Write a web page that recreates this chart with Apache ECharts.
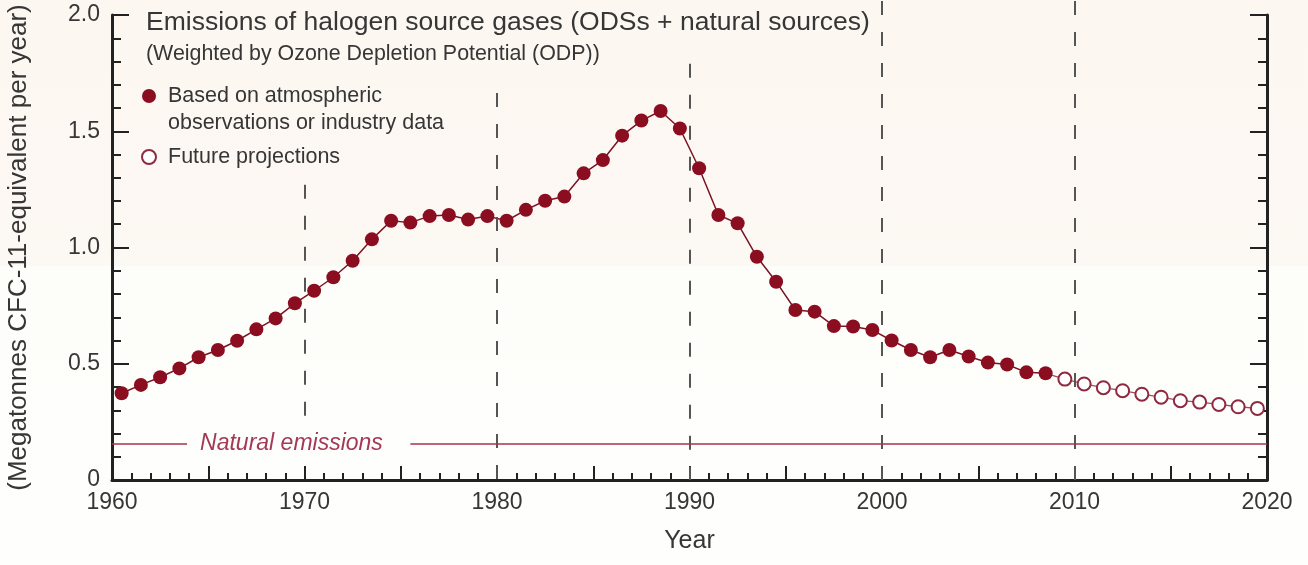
<!DOCTYPE html>
<html>
<head>
<meta charset="utf-8">
<script src="https://cdn.jsdelivr.net/npm/echarts@6/dist/echarts.min.js"></script>
<style>
  html, body { margin: 0; padding: 0; background: #fdfbf8; }
  #chart { width: 1308px; height: 565px; }
</style>
</head>
<body>
<div id="chart"></div>
<script>
// observed / industry data, plotted at mid-year
const obsYears = [
  1960.5, 1961.5, 1962.5, 1963.5, 1964.5, 1965.5, 1966.5, 1967.5, 1968.5, 1969.5,
  1970.5, 1971.5, 1972.5, 1973.5, 1974.5, 1975.5, 1976.5, 1977.5, 1978.5, 1979.5,
  1980.5, 1981.5, 1982.5, 1983.5, 1984.5, 1985.5, 1986.5, 1987.5, 1988.5, 1989.5,
  1990.5, 1991.5, 1992.5, 1993.5, 1994.5, 1995.5, 1996.5, 1997.5, 1998.5, 1999.5,
  2000.5, 2001.5, 2002.5, 2003.5, 2004.5, 2005.5, 2006.5, 2007.5, 2008.5
];
const obsValues = [
  0.373, 0.409, 0.442, 0.480, 0.528, 0.559, 0.599, 0.648, 0.695, 0.760,
  0.814, 0.872, 0.943, 1.035, 1.115, 1.107, 1.135, 1.140, 1.120, 1.135,
  1.115, 1.162, 1.201, 1.219, 1.319, 1.376, 1.481, 1.546, 1.587, 1.512,
  1.341, 1.140, 1.104, 0.960, 0.853, 0.731, 0.724, 0.662, 0.660, 0.645,
  0.600, 0.559, 0.528, 0.559, 0.531, 0.505, 0.497, 0.463, 0.459
];
// future projections
const projYears = [2009.5, 2010.5, 2011.5, 2012.5, 2013.5, 2014.5, 2015.5, 2016.5, 2017.5, 2018.5, 2019.5];
const projValues = [0.434, 0.413, 0.397, 0.384, 0.369, 0.356, 0.341, 0.335, 0.325, 0.315, 0.308];

const naturalEmissions = 0.158;
// vertical dashed dividers: year, top and bottom (in axis units of the outer grid)
const dividerYears = [1970, 1980, 1990, 2000, 2010];
const dividerTops = [1.27, 1.665, 1.79, 2.06, 2.06];
const dividerBottoms = [0.245, 0, 0, 0, 0];

const obsName = 'Based on atmospheric observations or industry data';
const projName = 'Future projections';

const FONT = 'Liberation Sans';
const RED = '#8b0d20';

let obsData = obsYears.map((x, i) => [x, obsValues[i]]);
// projection line starts from the last observed point
let projData = [{ value: [obsYears[obsYears.length - 1], obsValues[obsValues.length - 1]], symbol: 'none' }]
  .concat(projYears.map((x, i) => [x, projValues[i]]));

let myChart = echarts.init(document.getElementById('chart'), null, { renderer: 'canvas' });

myChart.setOption({
  animation: false,
  backgroundColor: new echarts.graphic.LinearGradient(0, 0, 0, 1, [
    { offset: 0, color: '#fcf7f1' },
    { offset: 0.47, color: '#fcf8f3' },
    { offset: 0.47, color: '#fdfdfa' },
    { offset: 1, color: '#fefefc' }
  ]),
  textStyle: { fontFamily: FONT },
  title: [
    {
      text: 'Emissions of halogen source gases (ODSs + natural sources)',
      left: 146, top: 9, padding: 0,
      textStyle: { fontFamily: FONT, fontSize: 26.5, fontWeight: 'normal', color: '#363636' }
    },
    {
      text: '(Weighted by Ozone Depletion Potential (ODP))',
      left: 146, top: 44, padding: 0,
      textStyle: { fontFamily: FONT, fontSize: 21.4, fontWeight: 'normal', color: '#363636' }
    }
  ],
  legend: {
    orient: 'vertical',
    left: 141, top: 55.5, padding: 0,
    itemWidth: 28, itemHeight: 14, itemGap: 7,
    selectedMode: false,
    textStyle: { fontFamily: FONT, fontSize: 21.5, color: '#363636', lineHeight: 27 },
    formatter: function (name) {
      // leading blank line keeps the marker level with the first text line
      return name === obsName ? '\nBased on atmospheric\nobservations or industry data' : name;
    },
    data: [
      { name: obsName, icon: 'circle' },
      { name: projName, icon: 'emptyCircle' }
    ]
  },
  grid: [
    { left: 112, right: 41, top: 15, bottom: 85, outerBoundsMode: 'none' },
    { left: 112, right: 41, top: 0, bottom: 85, outerBoundsMode: 'none' }
  ],
  xAxis: [
    {
      type: 'value', gridIndex: 0, min: 1960, max: 2020, interval: 5,
      name: 'Year', nameLocation: 'middle', nameGap: 49,
      nameTextStyle: { fontFamily: FONT, fontSize: 25, color: '#363636' },
      axisLine: { lineStyle: { color: '#222', width: 3 } },
      axisTick: { inside: true, length: 14, lineStyle: { color: '#222', width: 2 } },
      minorTick: { show: true, splitNumber: 5, length: 7, lineStyle: { color: '#222', width: 2 } },
      splitLine: { show: false },
      axisLabel: {
        margin: 11, fontFamily: FONT, fontSize: 23, color: '#363636',
        formatter: function (v) { return v % 10 === 0 ? String(v) : ''; }
      }
    },
    { type: 'value', gridIndex: 1, min: 1960, max: 2020, show: false }
  ],
  yAxis: [
    {
      type: 'value', gridIndex: 0, min: 0, max: 2, interval: 0.5, position: 'left',
      name: '(Megatonnes CFC-11-equivalent per year)', nameLocation: 'middle', nameGap: 80,
      nameTextStyle: { fontFamily: FONT, fontSize: 26, color: '#363636' },
      axisLine: { show: true, lineStyle: { color: '#222', width: 3 } },
      axisTick: { inside: true, length: 17, lineStyle: { color: '#222', width: 2 } },
      minorTick: { show: true, splitNumber: 5, length: 9, lineStyle: { color: '#222', width: 2 } },
      splitLine: { show: false },
      axisLabel: {
        margin: 12, fontFamily: FONT, fontSize: 23, color: '#363636',
        formatter: function (v) { return v === 0 ? '0' : v.toFixed(1); }
      }
    },
    {
      type: 'value', gridIndex: 0, min: 0, max: 2, interval: 0.5, position: 'right',
      axisLine: { show: true, lineStyle: { color: '#222', width: 3 } },
      axisTick: { inside: true, length: 17, lineStyle: { color: '#222', width: 2 } },
      minorTick: { show: true, splitNumber: 5, length: 9, lineStyle: { color: '#222', width: 2 } },
      splitLine: { show: false },
      axisLabel: { show: false }
    },
    // outer grid reaches the top of the picture, for dividers that run past the plot
    { type: 'value', gridIndex: 1, min: 0, max: 480 / 232.5, show: false }
  ],
  series: [
    {
      name: 'dividers',
      type: 'line', xAxisIndex: 1, yAxisIndex: 2,
      data: [],
      silent: true,
      markLine: {
        silent: true,
        symbol: ['none', 'none'],
        label: { show: false },
        lineStyle: { color: '#555', width: 2, type: [14, 17] },
        data: dividerYears.map((y, i) => [
          { coord: [y, dividerTops[i]] },
          { coord: [y, dividerBottoms[i]] }
        ])
      }
    },
    {
      name: 'natural',
      type: 'line', xAxisIndex: 0, yAxisIndex: 0,
      data: [],
      silent: true,
      markLine: {
        silent: true,
        symbol: ['none', 'none'],
        lineStyle: { color: '#a3354f', width: 1.5, type: 'solid' },
        data: [
          [
            { coord: [1960, naturalEmissions] },
            {
              coord: [1963.9, naturalEmissions],
              label: {
                show: true, position: 'end', distance: 13,
                formatter: 'Natural emissions',
                fontFamily: FONT, fontSize: 23, fontStyle: 'italic', color: '#a33a55'
              }
            }
          ],
          [
            { coord: [1975.5, naturalEmissions], label: { show: false } },
            { coord: [2020, naturalEmissions], label: { show: false } }
          ]
        ]
      }
    },
    {
      name: projName,
      type: 'line', xAxisIndex: 0, yAxisIndex: 0,
      data: projData,
      symbol: 'emptyCircle', symbolSize: 13,
      itemStyle: { color: '#8e2a3f', borderWidth: 1.6 },
      lineStyle: { color: '#a24a5d', width: 1.3 },
      z: 3
    },
    {
      name: obsName,
      type: 'line', xAxisIndex: 0, yAxisIndex: 0,
      data: obsData,
      symbol: 'circle', symbolSize: 14,
      itemStyle: { color: RED },
      lineStyle: { color: '#7a1424', width: 1.5 },
      z: 4
    }
  ]
});
</script>
</body>
</html>
